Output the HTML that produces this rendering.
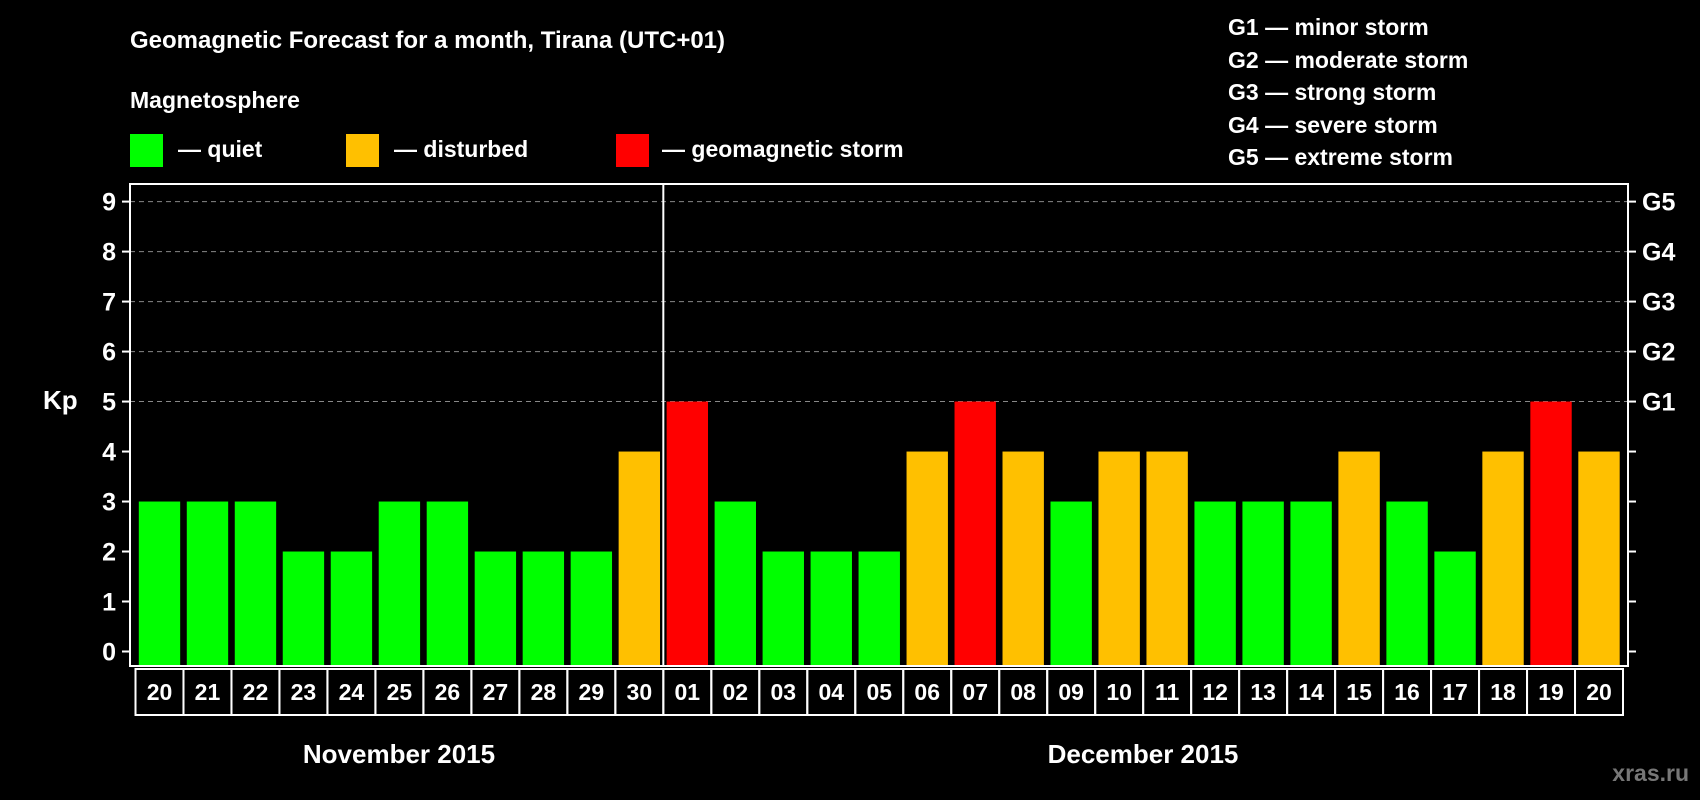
<!DOCTYPE html>
<html><head><meta charset="utf-8"><style>
html,body{margin:0;padding:0;background:#000;}
svg{display:block;font-family:"Liberation Sans",Arial,sans-serif;font-weight:bold;}
</style></head><body>
<svg id="chart" width="1700" height="800" viewBox="0 0 1700 800">
<rect width="1700" height="800" fill="#000"/>
<text x="130" y="48" fill="#fff" font-size="24">Geomagnetic Forecast for a month, Tirana (UTC+01)</text>
<text x="130" y="108" fill="#fff" font-size="23">Magnetosphere</text>
<g><rect x="130" y="134" width="33" height="33" fill="#00ff00"/><text x="178" y="157" fill="#fff" font-size="23">— quiet</text></g>
<g><rect x="346" y="134" width="33" height="33" fill="#ffc000"/><text x="394" y="157" fill="#fff" font-size="23">— disturbed</text></g>
<g><rect x="616" y="134" width="33" height="33" fill="#ff0000"/><text x="662" y="157" fill="#fff" font-size="23">— geomagnetic storm</text></g>
<g fill="#fff" font-size="23">
<text x="1228" y="35">G1 — minor storm</text>
<text x="1228" y="68">G2 — moderate storm</text>
<text x="1228" y="100">G3 — strong storm</text>
<text x="1228" y="133">G4 — severe storm</text>
<text x="1228" y="165">G5 — extreme storm</text>
</g>
<g id="grid"></g>
<g id="bars"></g>
<g id="axes"></g>
<text x="43" y="409" fill="#fff" font-size="26">Kp</text>
<text x="399" y="763" fill="#fff" text-anchor="middle" font-size="26">November 2015</text>
<text x="1143" y="763" fill="#fff" text-anchor="middle" font-size="26">December 2015</text>
<text x="1689" y="781" fill="#777" text-anchor="end" font-size="23">xras.ru</text>
</svg>
<script>
const days = ["20","21","22","23","24","25","26","27","28","29","30","01","02","03","04","05","06","07","08","09","10","11","12","13","14","15","16","17","18","19","20"];
const kpValues = [3,3,3,2,2,3,3,2,2,2,4,5,3,2,2,2,4,5,4,3,4,4,3,3,3,4,3,2,4,5,4];
const yTicks = [0,1,2,3,4,5,6,7,8,9];
const gLabels = ["G1","G2","G3","G4","G5"];
const gLevels = [5,6,7,8,9];

const NS="http://www.w3.org/2000/svg";
const x0=135.5, pitch=(1623-135.5)/days.length;
const y0=651.5, unit=(651.5-201.6)/9;
const X=i=>x0+i*pitch;
const Y=v=>y0-v*unit;
function mk(tag,attrs,parent){const e=document.createElementNS(NS,tag);for(const k in attrs)e.setAttribute(k,attrs[k]);parent.appendChild(e);return e;}
const grid=document.getElementById('grid'),bars=document.getElementById('bars'),axes=document.getElementById('axes');
yTicks.forEach(v=>{
  if(v>=5){const l=mk('line',{x1:130,x2:1628,y1:Y(v),y2:Y(v),stroke:'#888','stroke-dasharray':'5,4','stroke-width':1},grid);
  
  }
  const t=mk('line',{x1:122,x2:130,y1:Y(v),y2:Y(v),stroke:'#fff','stroke-width':2},axes);
  
  
  const t2=mk('line',{x1:1628,x2:1636,y1:Y(v),y2:Y(v),stroke:'#fff','stroke-width':2},axes);
  
  
  const lb=mk('text',{x:116,y:Y(v)+9,fill:'#fff','font-size':25,'text-anchor':'end'},axes);
  lb.textContent=v;
  
  
});
gLabels.forEach((g,i)=>{
  const lb=mk('text',{x:1642,y:Y(gLevels[i])+9,fill:'#fff','font-size':25},axes);
  lb.textContent=g;
  
  
});
kpValues.forEach((v,i)=>{
  const c=v>=5?'#ff0000':(v>=4?'#ffc000':'#00ff00');
  const r=mk('rect',{x:X(i)+3.3,y:Y(v),width:pitch-6.6,height:666-Y(v),fill:c},bars);
  
  
  const cell=mk('rect',{x:X(i),y:669,width:pitch,height:46,fill:'none',stroke:'#fff','stroke-width':2},axes);
  
  
  const t=mk('text',{x:X(i)+pitch/2,y:700,fill:'#fff','font-size':23,'text-anchor':'middle'},axes);
  t.textContent=days[i];
  
  
});
const box=mk('rect',{x:130,y:184,width:1498,height:482,fill:'none',stroke:'#fff','stroke-width':2},axes);


const div=mk('line',{x1:X(11),x2:X(11),y1:184,y2:666,stroke:'#fff','stroke-width':2},axes);


</script>
</body></html>
